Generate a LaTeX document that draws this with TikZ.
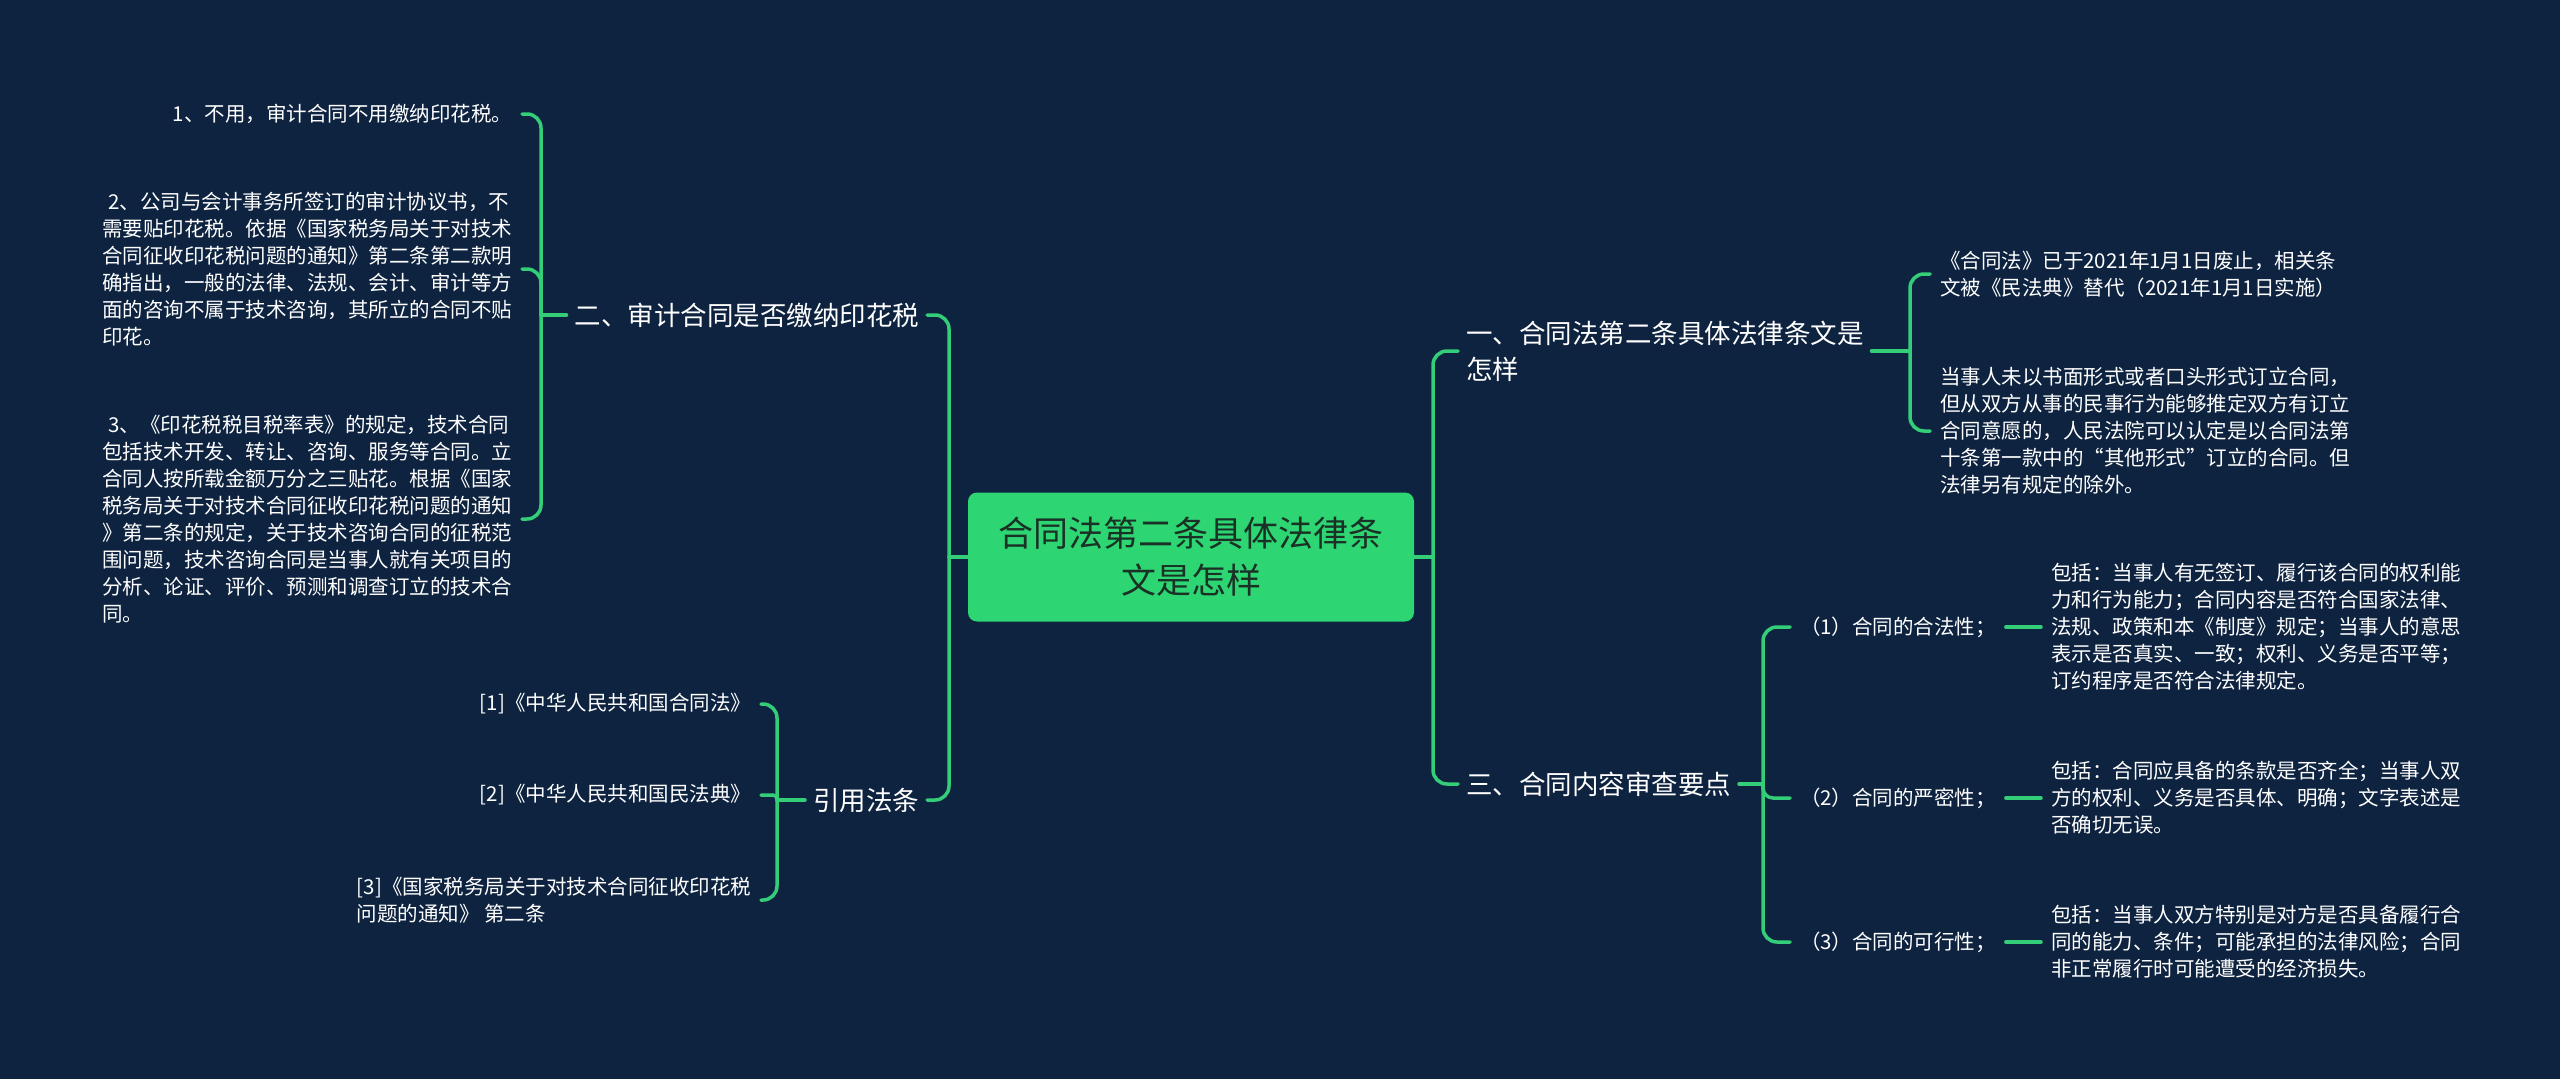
\documentclass[tikz,border=0pt]{standalone}
\usepackage{fontspec}
\setmainfont{Noto Sans CJK SC}
\usetikzlibrary{calc}
\definecolor{bgc}{RGB}{14,35,64}
\definecolor{lnc}{RGB}{52,206,120}
\definecolor{boxfill}{RGB}{46,213,115}
\definecolor{boxtext}{RGB}{26,50,38}
\newcommand\ftxtS{\fontsize{20.5}{27}\selectfont}
\newcommand\ftxtM{\fontsize{26.5}{36}\selectfont}
\newcommand\ftxtL{\fontsize{35}{47}\selectfont}
\begin{document}
\begin{tikzpicture}[x=1pt,y=-1pt,
  conn/.style={draw=lnc,line width=3.5pt,line cap=round},
  rc/.style={rounded corners=14pt},
  leafL/.style={anchor=east,align=left,text=white,font=\ftxtS,inner xsep=4pt,inner ysep=2pt,outer xsep=6pt},
  leafR/.style={anchor=west,align=left,text=white,font=\ftxtS,inner xsep=4pt,inner ysep=2pt,outer xsep=6pt},
  mainL/.style={anchor=east,align=left,text=white,font=\ftxtM,inner xsep=4pt,inner ysep=2pt,outer xsep=4pt},
  mainR/.style={anchor=west,align=left,text=white,font=\ftxtM,inner xsep=4pt,inner ysep=2pt,outer xsep=4pt},
  rootbox/.style={fill=boxfill,text=boxtext,font=\ftxtL,align=center,rounded corners=9pt,minimum width=446pt,minimum height=129pt,inner sep=0pt}
]
\fill[bgc] (0,0) rectangle (2560,1079);
\useasboundingbox (0,0) rectangle (2560,1079);

% root
\node[rootbox] (C) at (1191,557) {合同法第二条具体法律条\\文是怎样};

% level 1
\node[mainL] (n2) at (927,315) {二、审计合同是否缴纳印花税};
\node[mainL] (n4) at (927,800) {引用法条};
\node[mainR] (n1) at (1458,351) {一、合同法第二条具体法律条文是\\怎样};
\node[mainR] (n3) at (1458,784) {三、合同内容审查要点};

% trunk coordinates
\coordinate (tl) at (949,557);
\coordinate (tr) at (1433,557);
\coordinate (bx2) at (541,0);
\coordinate (bx4) at (777,0);
\coordinate (bx1) at (1910,0);
\coordinate (bx3) at (1763,0);

% leaves of n2
\node[leafL] (c21) at (522,114) {1、不用，审计合同不用缴纳印花税。};
\node[leafL] (c22) at (522,269) {\hspace*{0.3em}2、公司与会计事务所签订的审计协议书，不\\需要贴印花税。依据《国家税务局关于对技术\\合同征收印花税问题的通知》第二条第二款明\\确指出，一般的法律、法规、会计、审计等方\\面的咨询不属于技术咨询，其所立的合同不贴\\印花。};
\node[leafL] (c23) at (522,519) {\hspace*{0.3em}3、《印花税税目税率表》的规定，技术合同\\包括技术开发、转让、咨询、服务等合同。立\\合同人按所载金额万分之三贴花。根据《国家\\税务局关于对技术合同征收印花税问题的通知\\》第二条的规定，关于技术咨询合同的征税范\\围问题，技术咨询合同是当事人就有关项目的\\分析、论证、评价、预测和调查订立的技术合\\同。};

% leaves of n4
\node[leafL] (r1) at (761,704) {[1]《中华人民共和国合同法》};
\node[leafL] (r2) at (761,795) {[2]《中华人民共和国民法典》};
\node[leafL] (r3) at (761,900) {[3]《国家税务局关于对技术合同征收印花税\\问题的通知》 第二条};

% leaves of n1
\node[leafR] (k1) at (1930,274) {《合同法》已于2021年1月1日废止，相关条\\文被《民法典》替代（2021年1月1日实施）};
\node[leafR] (k2) at (1930,431) {当事人未以书面形式或者口头形式订立合同，\\但从双方从事的民事行为能够推定双方有订立\\合同意愿的，人民法院可以认定是以合同法第\\十条第一款中的“其他形式”订立的合同。但\\法律另有规定的除外。};

% children of n3
\node[leafR] (p1) at (1790,627) {（1）合同的合法性；};
\node[leafR] (p2) at (1790,798) {（2）合同的严密性；};
\node[leafR] (p3) at (1790,942) {（3）合同的可行性；};

\node[leafR] (q1) at (2041,627) {包括：当事人有无签订、履行该合同的权利能\\力和行为能力；合同内容是否符合国家法律、\\法规、政策和本《制度》规定；当事人的意思\\表示是否真实、一致；权利、义务是否平等；\\订约程序是否符合法律规定。};
\node[leafR] (q2) at (2041,798) {包括：合同应具备的条款是否齐全；当事人双\\方的权利、义务是否具体、明确；文字表述是\\否确切无误。};
\node[leafR] (q3) at (2041,942) {包括：当事人双方特别是对方是否具备履行合\\同的能力、条件；可能承担的法律风险；合同\\非正常履行时可能遭受的经济损失。};

% root to trunks
\draw[conn] (C.west) -- (tl);
\draw[conn,rc] (tl) -- (tl |- n2.east) -- (n2.east);
\draw[conn,rc] (tl) -- (tl |- n4.east) -- (n4.east);
\draw[conn] (C.east) -- (tr);
\draw[conn,rc] (tr) -- (tr |- n1.west) -- (n1.west);
\draw[conn,rc] (tr) -- (tr |- n3.west) -- (n3.west);

% n2 bracket
\draw[conn] (n2.west) -- (bx2 |- n2.west);
\draw[conn,rc] (bx2 |- n2.west) -- (bx2 |- c21.east) -- (c21.east);
\draw[conn,rc] (bx2 |- n2.west) -- (bx2 |- c22.east) -- (c22.east);
\draw[conn,rc] (bx2 |- n2.west) -- (bx2 |- c23.east) -- (c23.east);

% n4 bracket
\draw[conn] (n4.west) -- (bx4 |- n4.west);
\draw[conn,rc] (bx4 |- n4.west) -- (bx4 |- r1.east) -- (r1.east);
\draw[conn,rounded corners=4pt] (bx4 |- n4.west) -- (bx4 |- r2.east) -- (r2.east);
\draw[conn,rc] (bx4 |- n4.west) -- (bx4 |- r3.east) -- (r3.east);

% n1 bracket
\draw[conn] (n1.east) -- (bx1 |- n1.east);
\draw[conn,rc] (bx1 |- n1.east) -- (bx1 |- k1.west) -- (k1.west);
\draw[conn,rc] (bx1 |- n1.east) -- (bx1 |- k2.west) -- (k2.west);

% n3 bracket
\draw[conn] (n3.east) -- (bx3 |- n3.east);
\draw[conn,rc] (bx3 |- n3.east) -- (bx3 |- p1.west) -- (p1.west);
\draw[conn,rounded corners=10pt] (bx3 |- n3.east) -- (bx3 |- p2.west) -- (p2.west);
\draw[conn,rc] (bx3 |- n3.east) -- (bx3 |- p3.west) -- (p3.west);

% leaf links
\draw[conn] (p1.east) -- (q1.west);
\draw[conn] (p2.east) -- (q2.west);
\draw[conn] (p3.east) -- (q3.west);
\end{tikzpicture}
\end{document}
